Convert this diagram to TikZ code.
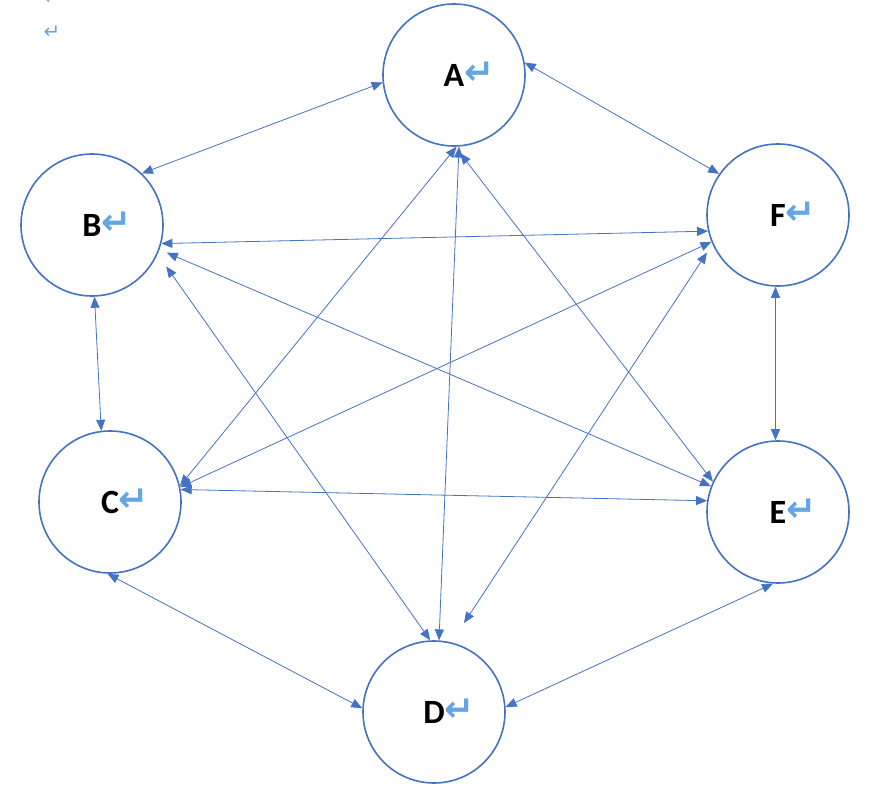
\documentclass[tikz,border=0pt]{standalone}
\usepackage{fontspec}
\setmainfont{Carlito}
\newfontfamily\symfont{DejaVu Sans}
\usetikzlibrary{arrows.meta}
\definecolor{officeblue}{RGB}{68,114,196}
\definecolor{markblue}{RGB}{100,165,230}
\newcommand{\retmark}{\rlap{\smash{\fontsize{36}{36}\selectfont\symfont\color{markblue}\raisebox{2pt}{↵}}}}
\begin{document}
\begin{tikzpicture}[x=1pt, y=-1pt,
    state/.style={circle, draw=officeblue, line width=1.6pt, minimum size=142pt, inner sep=0pt,
        font=\fontsize{34}{40}\selectfont\bfseries},
    link/.style={draw=officeblue, line width=0.8pt,
        {Triangle[length=11pt,width=9pt]}-{Triangle[length=11pt,width=9pt]}},
    parmark/.style={inner sep=0pt, text=markblue, font=\fontsize{20}{20}\selectfont\symfont}]
    \useasboundingbox (0,0) rectangle (884,794);
    \node[parmark] (mark1) at (52,-2) {↵};
    \node[parmark] (mark2) at (52,32) {↵};
    \node[state] (A) at (454,75) {A\retmark};
    \node[state] (B) at (92,225) {B\retmark};
    \node[state] (F) at (778,215) {F\retmark};
    \node[state] (C) at (110,502) {C\retmark};
    \node[state] (E) at (778,512) {E\retmark};
    \node[state] (D) at (434,712) {D\retmark};
    \draw[link] (A.186) -- (B.46);
    \draw[link] (A.10) -- (F.145);
    \draw[link] (B.345) -- (F.193);
    \draw[link] (B.272) -- (C.97);
    \draw[link] (F.268) -- (E.92);
    \draw[link] (C.268) -- (D.177);
    \draw[link] (D.4) -- (E.266);
    \draw[link] (A.272) -- (C.13);
    \draw[link] (A.274) -- (D.86);
    \draw[link, shorten <=8pt] (A.271) -- (E.155);
    \draw[link, shorten <=8pt] (B.340) -- (E.159);
    \draw[link, shorten <=15pt] (B.336) -- (D.93);
    \draw[link] (C.12) -- (F.202);
    \draw[link] (C.10) -- (E.171);
    \draw[link, shorten <=10pt, shorten >=23pt] (F.204) -- (D.76);
\end{tikzpicture}
\end{document}
